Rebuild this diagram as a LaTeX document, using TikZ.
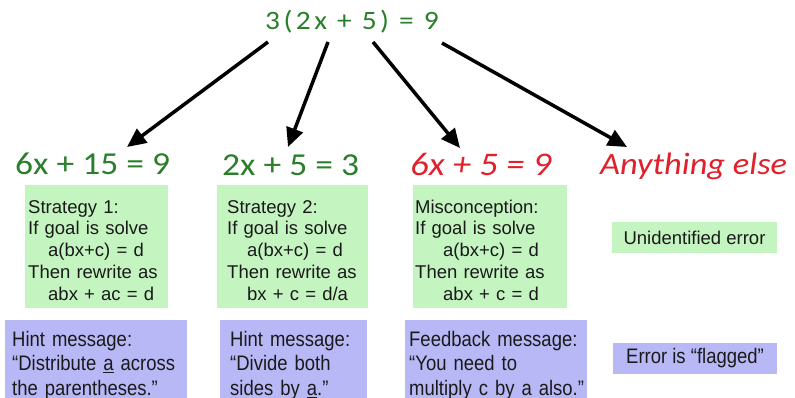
\documentclass[tikz,border=0pt]{standalone}
\usepackage{fontspec}
\setmainfont{Liberation Sans}
\newfontfamily\eqfont[FakeStretch=1.11]{Carlito}
\newfontfamily\ttlfont[FakeStretch=1.11,LetterSpace=13]{Carlito}
\newfontfamily\blufont[FakeStretch=0.88]{Liberation Sans}
\usetikzlibrary{arrows.meta}
\definecolor{eqgreen}{HTML}{2A7F2A}
\definecolor{eqred}{HTML}{E0202A}
\definecolor{boxgreen}{HTML}{C4F4C0}
\definecolor{boxblue}{HTML}{B8B8F6}
\definecolor{txt}{HTML}{1A1A1A}
\newcommand\gtop{\rule{0pt}{20pt}}
\begin{document}
\begin{tikzpicture}[x=1pt,y=-1pt,
  eq/.style={anchor=base west, inner sep=0pt, text=eqgreen,
    font=\eqfont\fontsize{32pt}{38pt}\selectfont},
  wrong/.style={anchor=base west, inner sep=0pt, text=eqred,
    font=\eqfont\itshape\fontsize{33pt}{38pt}\selectfont},
  gbox/.style={fill=boxgreen, anchor=north west, align=left, inner ysep=0pt,
    text=txt, font=\fontsize{18.5pt}{21.7pt}\selectfont},
  bbox/.style={fill=boxblue, anchor=north west, align=left, inner ysep=0pt,
    text=txt, font=\blufont\fontsize{21pt}{24.5pt}\selectfont},
  arr/.style={line width=3.5pt, -{Triangle[length=19pt,width=17pt]}}
]
\useasboundingbox (0,0) rectangle (795,398);

% title
\node[anchor=base west, inner sep=0pt, text=eqgreen,
  font=\ttlfont\fontsize{26.5pt}{30pt}\selectfont] (t) at (265,29.5) {3(2x + 5) = 9};

% row labels
\node[eq] (l1) at (15,175) {6x + 15 = 9};
\node[eq] (l2) at (222,176) {2x + 5 = 3};
\node[wrong] (l3) at (410,176) {6x + 5 = 9};
\node[wrong, font=\eqfont\itshape\fontsize{31pt}{36pt}\selectfont] (l4) at (600,175) {Anything else};

% arrows
\coordinate (s1) at (268,42);  \coordinate (e1) at (127,147);
\coordinate (s2) at (328,42);  \coordinate (e2) at (288,147);
\coordinate (s3) at (373,42);  \coordinate (e3) at (460,148);
\coordinate (s4) at (442,43);  \coordinate (e4) at (627,147);
\draw[arr] (s1) -- (e1);
\draw[arr] (s2) -- (e2);
\draw[arr] (s3) -- (e3);
\draw[arr] (s4) -- (e4);

% green boxes
\node[gbox, inner xsep=3pt, text width=137pt, minimum height=123pt] (g1) at (25,185)
  {\gtop Strategy 1:\\If goal is solve\\\hspace*{20pt}a(bx+c) = d\\Then rewrite as\\\hspace*{20pt}abx + ac = d};
\node[gbox, inner xsep=10pt, text width=131pt, minimum height=123pt] (g2) at (217,185)
  {\gtop Strategy 2:\\If goal is solve\\\hspace*{20pt}a(bx+c) = d\\Then rewrite as\\\hspace*{20pt}bx + c = d/a};
\node[gbox, inner xsep=2pt, text width=150pt, minimum height=123pt] (g3) at (413,185)
  {\gtop Misconception:\\If goal is solve\\\hspace*{28pt}a(bx+c) = d\\Then rewrite as\\\hspace*{28pt}abx + c = d};
\node[gbox, anchor=center, align=center, minimum width=165pt, minimum height=31pt] (g4) at (694.5,237.5)
  {Unidentified error};

% blue boxes
\node[bbox, inner xsep=7pt, text width=168pt, minimum height=90pt] (b1) at (5,320)
  {Hint message:\\“Distribute \underline{a} across\\the parentheses.”};
\node[bbox, inner xsep=10pt, text width=127pt, minimum height=90pt] (b2) at (220,320)
  {Hint message:\\“Divide both\\sides by \underline{a}.”};
\node[bbox, inner xsep=4pt, text width=174pt, minimum height=90pt] (b3) at (405,320)
  {Feedback message:\\“You need to\\\mbox{multiply c by a also.”}};
\node[bbox, anchor=center, align=center, minimum width=164pt, minimum height=31pt] (b4) at (695,358.5)
  {Error is “flagged”};
\end{tikzpicture}
\end{document}
